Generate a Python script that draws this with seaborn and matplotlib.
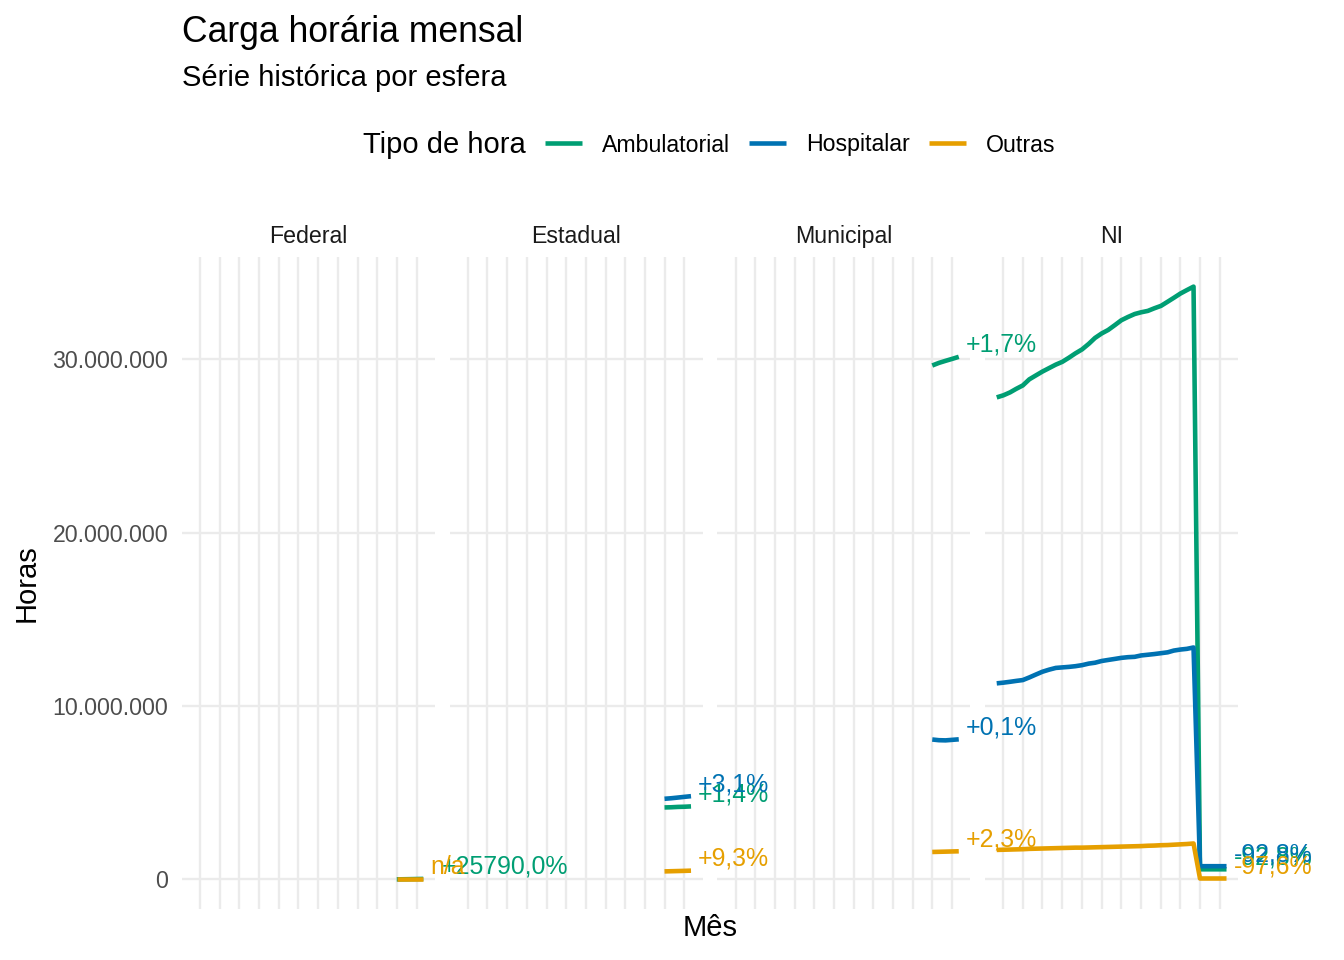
import pandas as pd
import matplotlib
matplotlib.use("Agg")
import matplotlib.pyplot as plt
import matplotlib.dates as mdates
from matplotlib.lines import Line2D
from matplotlib.ticker import FuncFormatter
import seaborn as sns

# Meses (competências) e valores em milhões de horas
meses = pd.date_range("2022-12-01", periods=36, freq="MS")
meses_finais = meses[-5:]

ni_ambulatorial = [27.81, 27.93, 28.10, 28.30, 28.50, 28.85, 29.08, 29.30, 29.50, 29.70,
                   29.86, 30.10, 30.35, 30.58, 30.90, 31.24, 31.50, 31.70, 31.98, 32.26,
                   32.45, 32.62, 32.72, 32.80, 32.95, 33.09, 33.33, 33.55, 33.80, 34.00,
                   34.20, 0.58, 0.58, 0.58, 0.58, 0.58]
ni_hospitalar = [11.31, 11.35, 11.40, 11.45, 11.50, 11.65, 11.82, 11.98, 12.10, 12.20,
                 12.23, 12.26, 12.30, 12.36, 12.45, 12.50, 12.60, 12.66, 12.72, 12.78,
                 12.82, 12.84, 12.92, 12.96, 13.00, 13.05, 13.10, 13.20, 13.26, 13.30,
                 13.38, 0.76, 0.76, 0.76, 0.76, 0.76]
ni_outras = [1.70, 1.71, 1.72, 1.73, 1.74, 1.76, 1.77, 1.78, 1.79, 1.80,
             1.81, 1.82, 1.83, 1.83, 1.84, 1.85, 1.86, 1.87, 1.88, 1.89,
             1.90, 1.91, 1.92, 1.94, 1.95, 1.97, 1.98, 2.00, 2.02, 2.04,
             2.07, 0.05, 0.05, 0.05, 0.05, 0.05]

federal_ambulatorial = [0.0001, 0.006, 0.012, 0.019, 0.0259]
federal_outras = [0.0, 0.0, 0.0, 0.0, 0.0]
estadual_ambulatorial = [4.15, 4.16, 4.18, 4.19, 4.21]
estadual_hospitalar = [4.65, 4.68, 4.72, 4.76, 4.80]
estadual_outras = [0.46, 0.47, 0.48, 0.49, 0.503]
municipal_ambulatorial = [29.65, 29.80, 29.92, 30.03, 30.15]
municipal_hospitalar = [8.07, 8.03, 8.02, 8.05, 8.08]
municipal_outras = [1.58, 1.59, 1.60, 1.61, 1.62]

esferas = ["Federal", "Estadual", "Municipal", "NI"]
tipos = ["Ambulatorial", "Hospitalar", "Outras"]
cores = ["#009E73", "#0072B2", "#E69F00"]

rotulos = {
    ("Federal", "Ambulatorial"): "+25790,0%",
    ("Federal", "Outras"): "n/a",
    ("Estadual", "Ambulatorial"): "+1,4%",
    ("Estadual", "Hospitalar"): "+3,1%",
    ("Estadual", "Outras"): "+9,3%",
    ("Municipal", "Ambulatorial"): "+1,7%",
    ("Municipal", "Hospitalar"): "+0,1%",
    ("Municipal", "Outras"): "+2,3%",
    ("NI", "Ambulatorial"): "-92,8%",
    ("NI", "Hospitalar"): "-92,8%",
    ("NI", "Outras"): "-97,6%",
}
# o rótulo verde do painel Federal aparece um pouco mais à direita
deslocamento_extra = {("Federal", "Ambulatorial"): 11}

series = [
    ("Federal", "Ambulatorial", meses_finais, federal_ambulatorial),
    ("Federal", "Outras", meses_finais, federal_outras),
    ("Estadual", "Ambulatorial", meses_finais, estadual_ambulatorial),
    ("Estadual", "Hospitalar", meses_finais, estadual_hospitalar),
    ("Estadual", "Outras", meses_finais, estadual_outras),
    ("Municipal", "Ambulatorial", meses_finais, municipal_ambulatorial),
    ("Municipal", "Hospitalar", meses_finais, municipal_hospitalar),
    ("Municipal", "Outras", meses_finais, municipal_outras),
    ("NI", "Ambulatorial", meses, ni_ambulatorial),
    ("NI", "Hospitalar", meses, ni_hospitalar),
    ("NI", "Outras", meses, ni_outras),
]

frames = []
for esfera, tipo, x, y in series:
    frames.append(pd.DataFrame({"esfera": esfera, "tipo": tipo, "mes": x,
                                "horas": [v * 1e6 for v in y]}))
df = pd.concat(frames, ignore_index=True)

sns.set_theme(style="white")
plt.rcParams["font.family"] = ["Liberation Sans", "DejaVu Sans"]
plt.rcParams["lines.solid_capstyle"] = "butt"
plt.rcParams["text.color"] = "black"

W, H = 1344, 960
fig, axes = plt.subplots(1, 4, figsize=(W / 100, H / 100), dpi=100, sharex=True, sharey=True)
fig.subplots_adjust(left=182 / W, right=1238 / W, bottom=1 - 909 / H, top=1 - 257 / H,
                    wspace=15 / 253)

paleta = dict(zip(tipos, cores))
for i, (ax, esfera) in enumerate(zip(axes, esferas)):
    # painéis transparentes e os da esquerda por cima, para os rótulos não serem cortados
    ax.set_facecolor("none")
    ax.set_zorder(10 - i)
    sub = df[df["esfera"] == esfera]
    sns.lineplot(data=sub, x="mes", y="horas", hue="tipo", hue_order=tipos, palette=paleta,
                 estimator=None, legend=False, linewidth=3.3, ax=ax)
    for j, tipo in enumerate(tipos):
        s = sub[sub["tipo"] == tipo]
        if s.empty:
            continue
        ult = s.iloc[-1]
        dx = 7 + deslocamento_extra.get((esfera, tipo), 0)
        ax.annotate(rotulos[(esfera, tipo)], xy=(ult["mes"], ult["horas"]), xytext=(dx, 5),
                    textcoords="offset pixels", ha="left", va="baseline",
                    color=paleta[tipo], fontsize=17.9, annotation_clip=False, zorder=5 + j)
    ax.set_title(esfera, fontsize=16.7, pad=10, color="#1A1A1A")
    ax.set_xlabel("")
    ax.set_ylabel("")
    for sp in ax.spines.values():
        sp.set_visible(False)
    ax.xaxis.set_major_locator(mdates.MonthLocator(bymonth=(1, 4, 7, 10)))
    ax.grid(True, color="#EBEBEB", linewidth=1.7)
    ax.set_axisbelow(True)
    ax.tick_params(axis="x", labelbottom=False, length=0)
    ax.tick_params(axis="y", length=0, pad=10, labelsize=16.7, labelcolor="#4D4D4D")

axes[0].set_yticks([0, 1e7, 2e7, 3e7])
axes[0].yaxis.set_major_formatter(FuncFormatter(lambda v, p: f"{v:,.0f}".replace(",", ".")))

fig.text(182 / W, 1 - 42 / H, "Carga horária mensal", fontsize=25.6, va="baseline")
fig.text(182 / W, 1 - 86 / H, "Série histórica por esfera", fontsize=21, va="baseline")
fig.text(27 / W, 1 - 583 / H, "Horas", fontsize=21, rotation=90, va="center", ha="center")
fig.text(710 / W, 1 - 928 / H, "Mês", fontsize=21, va="center", ha="center")

fig.text(363 / W, 1 - 145 / H, "Tipo de hora", fontsize=21, va="center")
handles = [Line2D([], [], color=c, linewidth=3.3) for c in cores]
leg = fig.legend(handles, tipos, loc="center left", bbox_to_anchor=(545 / W, 1 - 145 / H),
                 ncol=3, frameon=False, fontsize=16.7, handlelength=1.6, handletextpad=0.86,
                 columnspacing=0.82, borderpad=0, borderaxespad=0)
for t in leg.get_texts():
    t.set_color("black")

fig.savefig("out.png", dpi=100)
